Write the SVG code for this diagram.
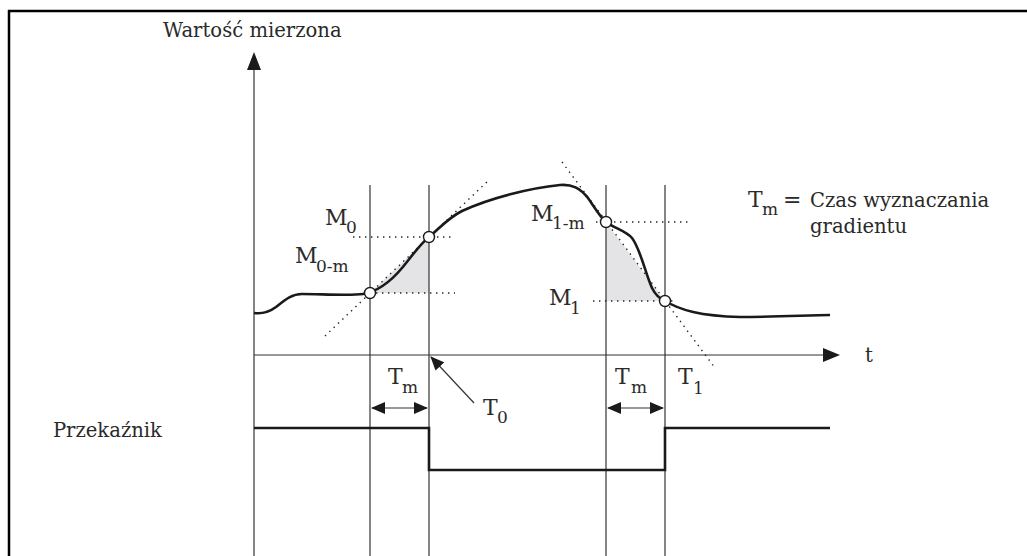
<svg xmlns="http://www.w3.org/2000/svg" width="1027" height="556" viewBox="0 0 1027 556">
<style>
.thin{stroke:#333;stroke-width:1.2;fill:none}
.thick{stroke:#1a1a1a;stroke-width:2.6;fill:none}
.dot{stroke:#222;stroke-width:1.4;fill:none;stroke-dasharray:1.4 4.6}
.shade{fill:#e4e4e6;stroke:none}
.txt{font-family:"DejaVu Serif","Liberation Serif",serif;font-size:19.6px;fill:#2a2a2a}
.lbl{font-family:"DejaVu Serif","Liberation Serif",serif;font-size:22px;fill:#2a2a2a}
.sub{font-family:"DejaVu Serif","Liberation Serif",serif;font-size:17px;fill:#2a2a2a}
.pt{fill:#fff;stroke:#1a1a1a;stroke-width:1.4}
.head{fill:#1a1a1a;stroke:none}
</style>
<defs>
<marker id="ah" markerWidth="14" markerHeight="12" refX="13" refY="6" orient="auto-start-reverse" markerUnits="userSpaceOnUse">
<path d="M0,0 L14,6 L0,12 Z" class="head"/>
</marker>
</defs>
<rect width="1027" height="556" fill="#fff"/>
<g id="frame">
<path d="M8,11 H1027 M9,10 V556" stroke="#000" stroke-width="2.5" fill="none"/>
</g>
<g id="shading">
<polygon class="shade" points="370,293 429,237 429,293"/>
<polygon class="shade" points="606,222 665,301 606,301"/>
</g>
<g id="connectors">
<line class="thin" x1="254" y1="68" x2="254" y2="556"/>
<polygon class="head" points="254,52 247,70 261,70"/>
<line class="thin" x1="254" y1="355" x2="825" y2="355"/>
<polygon class="head" points="840,355 823,348 823,362"/>
<line class="thin" x1="370" y1="185" x2="370" y2="556"/>
<line class="thin" x1="429" y1="185" x2="429" y2="556"/>
<line class="thin" x1="606" y1="185" x2="606" y2="556"/>
<line class="thin" x1="665" y1="185" x2="665" y2="556"/>
<line class="dot" x1="325" y1="336" x2="490" y2="179"/>
<line class="dot" x1="562" y1="162" x2="715" y2="368"/>
<line class="dot" x1="353" y1="237" x2="455" y2="237"/>
<line class="dot" x1="370" y1="293" x2="455" y2="293"/>
<line class="dot" x1="596" y1="222" x2="690" y2="222"/>
<line class="dot" x1="593" y1="301" x2="675" y2="301"/>
<path class="thick" d="M254,313 C262,314 268,313 276,307 C286,299 292,294 302,294 C320,294 350,296 363,294 C380,291 392,280 402,268 C412,256 420,244 429,237 C440,228 448,218 462,211 C490,198 530,188 560,185 C572,184 580,188 588,198 C595,208 600,217 606,222 C614,228 626,231 632,238 C640,248 645,272 652,288 C656,296 660,299 665,301 C680,310 700,316 740,317 C780,317 810,315 830,315"/>
<path d="M254,428 H429 V470 H665 V428 H830" stroke="#1a1a1a" stroke-width="2.6" fill="none"/>
<line class="thin" x1="372" y1="408" x2="427" y2="408" marker-start="url(#ah)" marker-end="url(#ah)"/>
<line class="thin" x1="608" y1="408" x2="663" y2="408" marker-start="url(#ah)" marker-end="url(#ah)"/>
<line class="thin" x1="474" y1="403" x2="431" y2="357" marker-end="url(#ah)"/>
</g>
<g id="points">
<circle class="pt" cx="370" cy="293" r="5.5"/>
<circle class="pt" cx="429" cy="237" r="5.5"/>
<circle class="pt" cx="606" cy="222" r="5.5"/>
<circle class="pt" cx="665" cy="301" r="5.5"/>
</g>
<g id="labels">
<text class="txt" x="163" y="37">Wartość mierzona</text>
<text class="txt" x="162" y="437" text-anchor="end">Przekaźnik</text>
<text class="txt" x="865" y="362">t</text>
<g id="M0"><text class="lbl" x="325" y="225">M</text><text class="sub" x="346" y="233">0</text></g>
<g id="M0m"><text class="lbl" x="295" y="263">M</text><text class="sub" x="316" y="272">0-m</text></g>
<g id="M1m"><text class="lbl" x="531" y="221">M</text><text class="sub" x="552" y="229">1-m</text></g>
<g id="M1"><text class="lbl" x="549" y="305">M</text><text class="sub" x="570" y="314">1</text></g>
<g id="legend"><text class="lbl" x="748" y="207">T</text><text class="sub" x="762" y="215">m</text><text class="lbl" x="783" y="207">=</text><text class="txt" x="810" y="207">Czas wyznaczania</text><text class="txt" x="810" y="233">gradientu</text></g>
<g id="Tm1"><text class="lbl" x="388" y="384">T</text><text class="sub" x="402" y="393">m</text></g>
<g id="T0"><text class="lbl" x="483" y="415">T</text><text class="sub" x="497" y="423">0</text></g>
<g id="Tm2"><text class="lbl" x="615" y="384">T</text><text class="sub" x="631" y="393">m</text></g>
<g id="T1"><text class="lbl" x="678" y="384">T</text><text class="sub" x="693" y="394">1</text></g>
</g>
</svg>
